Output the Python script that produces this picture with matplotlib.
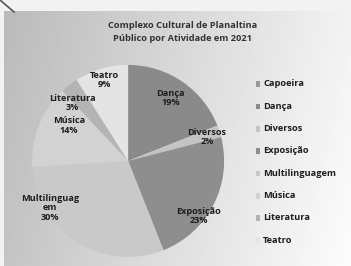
import matplotlib
matplotlib.use('Agg')
import matplotlib.pyplot as plt
import numpy as np

categorias = ['Capoeira', 'Dança', 'Diversos', 'Exposição', 'Multilinguagem',
              'Música', 'Literatura', 'Teatro']
percentuais = [0, 19, 2, 23, 30, 14, 3, 9]
rotulos = ['', 'Dança\n19%', 'Diversos\n2%', 'Exposição\n23%',
           'Multilinguag\nem\n30%', 'Música\n14%', 'Literatura\n3%', 'Teatro\n9%']
cores = ['#9a9a9a', '#8a8a8a', '#c4c4c4', '#8e8e8e', '#c9c9c9',
         '#d2d2d2', '#b4b4b4', '#e4e4e4']

plt.rcParams['font.family'] = ['Open Sans', 'DejaVu Sans']

fig = plt.figure(figsize=(3.51, 2.66), dpi=100)
fig.patch.set_facecolor('#f2f2f2')

# fundo com gradiente (foto da tela)
bg = fig.add_axes([0.012, 0, 0.988, 0.96])
gx = np.linspace(0, 1, 200)
gy = np.linspace(0, 1, 150)
X, Y = np.meshgrid(gx, gy)
G = 0.73 + 0.22 * X + 0.04 * Y
bg.imshow(G, cmap='gray', vmin=0, vmax=1, aspect='auto', extent=[0, 1, 0, 1])
bg.axis('off')
fig.add_artist(plt.Line2D([0.0, 0.04], [1.0, 0.955], color='#555555', lw=1.2))

fig.text(0.52, 0.905, 'Complexo Cultural de Planaltina', ha='center', va='center',
         fontsize=6.7, fontweight='bold', color='#333333')
fig.text(0.52, 0.855, 'Público por Atividade em 2021', ha='center', va='center',
         fontsize=6.7, fontweight='bold', color='#333333')

ax = fig.add_axes([0.0915, 0.034, 0.547, 0.722])
wedges, _ = ax.pie(percentuais, colors=cores, startangle=90, counterclock=False,
                   radius=1, wedgeprops={'linewidth': 0})
ax.set_xlim(-1, 1)
ax.set_ylim(-1, 1)
ax.set_aspect('equal')
ax.axis('off')

# posição dos rótulos (ângulo, raio)
pos = [None, (56, 0.79), (17, 0.86), (-38, 0.93), (-149, 0.95),
       (149, 0.72), (134, 0.84), (106, 0.88)]
for txt, p in zip(rotulos, pos):
    if p is None:
        continue
    a = np.radians(p[0])
    ax.text(p[1] * np.cos(a), p[1] * np.sin(a), txt, ha='center', va='center',
            fontsize=6.6, fontweight='bold', color='#1e1e1e', linespacing=1.05)

# legenda
for i, (c, cor) in enumerate(zip(categorias, cores)):
    y = 1 - (84 + i * 22.3) / 266
    fig.patches.append(plt.Rectangle((256 / 351, y - 0.012), 0.011, 0.022,
                                     facecolor=cor, edgecolor='none',
                                     transform=fig.transFigure))
    fig.text(263 / 351, y, c, ha='left', va='center', fontsize=6.7,
             fontweight='bold', color='#1e1e1e')

fig.savefig('out.png', dpi=100)
